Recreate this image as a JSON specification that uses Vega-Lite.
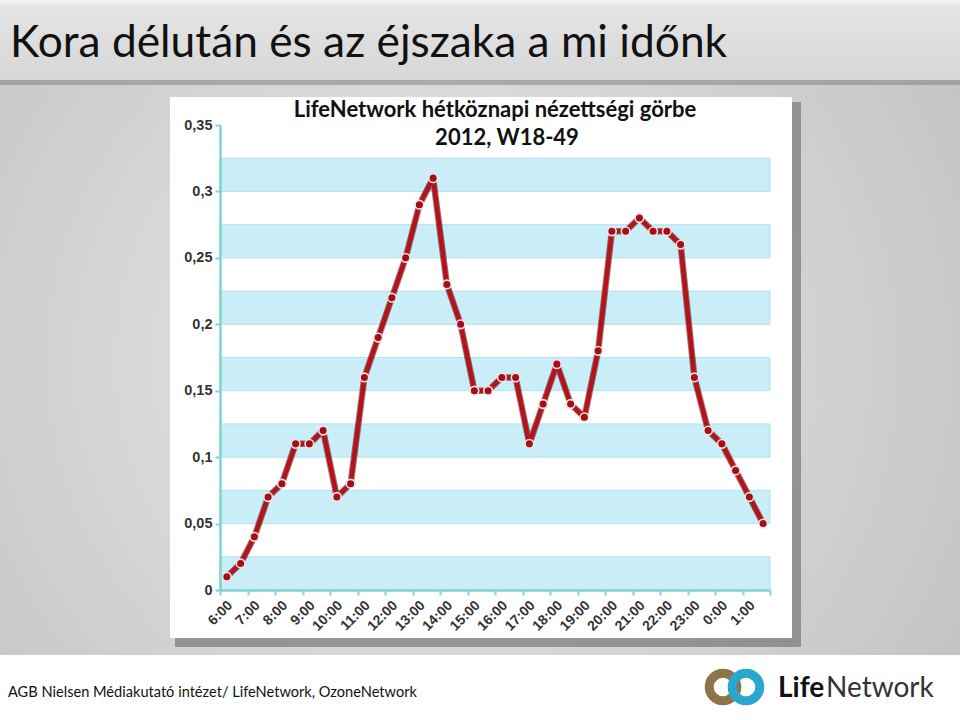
{
  "$schema": "https://vega.github.io/schema/vega-lite/v6.json",
  "width": 550,
  "height": 465,
  "autosize": {"type": "none"},
  "padding": {"left": 220, "top": 125, "right": 190, "bottom": 130},
  "background": "#d0d0d0",
  "config": {"view": {"stroke": null}, "font": "Lato"},
  "resolve": {"axis": {"x": "independent", "y": "independent"}},
  "datasets": {
    "nezettseg": [
      {"ora": 6.25, "nezettseg": 0.01}, {"ora": 6.75, "nezettseg": 0.02},
      {"ora": 7.25, "nezettseg": 0.04}, {"ora": 7.75, "nezettseg": 0.07},
      {"ora": 8.25, "nezettseg": 0.08}, {"ora": 8.75, "nezettseg": 0.11},
      {"ora": 9.25, "nezettseg": 0.11}, {"ora": 9.75, "nezettseg": 0.12},
      {"ora": 10.25, "nezettseg": 0.07}, {"ora": 10.75, "nezettseg": 0.08},
      {"ora": 11.25, "nezettseg": 0.16}, {"ora": 11.75, "nezettseg": 0.19},
      {"ora": 12.25, "nezettseg": 0.22}, {"ora": 12.75, "nezettseg": 0.25},
      {"ora": 13.25, "nezettseg": 0.29}, {"ora": 13.75, "nezettseg": 0.31},
      {"ora": 14.25, "nezettseg": 0.23}, {"ora": 14.75, "nezettseg": 0.20},
      {"ora": 15.25, "nezettseg": 0.15}, {"ora": 15.75, "nezettseg": 0.15},
      {"ora": 16.25, "nezettseg": 0.16}, {"ora": 16.75, "nezettseg": 0.16},
      {"ora": 17.25, "nezettseg": 0.11}, {"ora": 17.75, "nezettseg": 0.14},
      {"ora": 18.25, "nezettseg": 0.17}, {"ora": 18.75, "nezettseg": 0.14},
      {"ora": 19.25, "nezettseg": 0.13}, {"ora": 19.75, "nezettseg": 0.18},
      {"ora": 20.25, "nezettseg": 0.27}, {"ora": 20.75, "nezettseg": 0.27},
      {"ora": 21.25, "nezettseg": 0.28}, {"ora": 21.75, "nezettseg": 0.27},
      {"ora": 22.25, "nezettseg": 0.27}, {"ora": 22.75, "nezettseg": 0.26},
      {"ora": 23.25, "nezettseg": 0.16}, {"ora": 23.75, "nezettseg": 0.12},
      {"ora": 24.25, "nezettseg": 0.11}, {"ora": 24.75, "nezettseg": 0.09},
      {"ora": 25.25, "nezettseg": 0.07}, {"ora": 25.75, "nezettseg": 0.05}
    ],
    "savok": [
      {"also": 0, "felso": 0.025}, {"also": 0.05, "felso": 0.075},
      {"also": 0.1, "felso": 0.125}, {"also": 0.15, "felso": 0.175},
      {"also": 0.2, "felso": 0.225}, {"also": 0.25, "felso": 0.275},
      {"also": 0.3, "felso": 0.325}
    ],
    "ures": [{}]
  },
  "layer": [
    {
      "data": {"name": "ures"},
      "mark": {"type": "rect", "fill": {"gradient": "radial", "x1": 0.45, "y1": 0.5, "x2": 0.45, "y2": 0.5, "r1": 0, "r2": 0.75, "stops": [{"offset": 0, "color": "#ebebeb"}, {"offset": 1, "color": "#bcbcbc"}]}},
      "encoding": {"x": {"datum": -2, "axis": null}, "x2": {"datum": 32.9091}, "y": {"datum": 0.44409, "axis": null}, "y2": {"datum": -0.09785}}
    },
    {
      "data": {"name": "ures"},
      "mark": {"type": "rect", "fill": "#8a8a8a", "opacity": 0.6},
      "encoding": {"x": {"datum": -2, "axis": null}, "x2": {"datum": 32.9091}, "y": {"datum": 0.44409, "axis": null}, "y2": {"datum": 0.38011}}
    },
    {
      "data": {"name": "ures"},
      "mark": {"type": "rect", "fill": {"gradient": "linear", "x1": 0, "y1": 0, "x2": 0, "y2": 1, "stops": [{"offset": 0, "color": "#f6f6f6"}, {"offset": 0.08, "color": "#e4e4e4"}, {"offset": 1, "color": "#d7d7d7"}]}},
      "encoding": {"x": {"datum": -2, "axis": null}, "x2": {"datum": 32.9091}, "y": {"datum": 0.44409, "axis": null}, "y2": {"datum": 0.38387}}
    },
    {
      "data": {"name": "ures"},
      "mark": {"type": "rect", "fill": "#ffffff"},
      "encoding": {"x": {"datum": -2, "axis": null}, "x2": {"datum": 32.9091}, "y": {"datum": -0.04892, "axis": null}, "y2": {"datum": -0.09785}}
    },
    {
      "data": {"name": "ures"},
      "mark": {"type": "rect", "fill": "#5e5e5e", "opacity": 0.55},
      "encoding": {"x": {"datum": 4.36364, "axis": null}, "x2": {"datum": 27.12727}, "y": {"datum": 0.36731, "axis": null}, "y2": {"datum": -0.0429}}
    },
    {
      "data": {"name": "ures"},
      "mark": {"type": "rect", "fill": "#ffffff"},
      "encoding": {"x": {"datum": 4.18182, "axis": null}, "x2": {"datum": 26.8}, "y": {"datum": 0.37108, "axis": null}, "y2": {"datum": -0.03613}}
    },
    {
      "data": {"name": "savok"},
      "mark": {"type": "rect", "fill": "#c9eef8", "stroke": "#b2e4ee", "strokeWidth": 1},
      "encoding": {"x": {"datum": 6, "axis": null}, "x2": {"datum": 26}, "y": {"field": "also", "type": "quantitative", "axis": null}, "y2": {"field": "felso"}}
    },
    {
      "data": {"name": "nezettseg"},
      "mark": {"type": "line", "color": "#5c0000", "strokeWidth": 6.5, "opacity": 0.55, "strokeJoin": "round", "strokeCap": "round"},
      "encoding": {"x": {"field": "ora", "type": "quantitative", "axis": null}, "y": {"field": "nezettseg", "type": "quantitative", "axis": null}}
    },
    {
      "data": {"name": "nezettseg"},
      "mark": {"type": "line", "color": "#b3141b", "strokeWidth": 4.5, "strokeJoin": "round", "strokeCap": "round", "point": {"filled": true, "fill": "#a0101a", "stroke": "#fbe0e0", "strokeWidth": 1.6, "size": 75, "opacity": 1}},
      "encoding": {
        "x": {
          "field": "ora", "type": "quantitative",
          "scale": {"domain": [6, 26], "nice": false, "zero": false},
          "axis": {
            "values": [6, 7, 8, 9, 10, 11, 12, 13, 14, 15, 16, 17, 18, 19, 20, 21, 22, 23, 24, 25, 26],
            "labelExpr": "datum.value == 26 ? '' : (datum.value % 24) + ':00'",
            "labelAngle": -45, "labelFont": "Liberation Sans", "labelFontWeight": "bold", "labelFontSize": 14, "labelColor": "#333333",
            "labelPadding": 3, "labelOffset": 5, "labelOverlap": false, "labelFlush": false,
            "tickColor": "#7fd3d3", "tickWidth": 2, "tickSize": 5,
            "domainColor": "#7fd3d3", "domainWidth": 2.5,
            "grid": false, "title": null, "zindex": 1
          }
        },
        "y": {
          "field": "nezettseg", "type": "quantitative",
          "scale": {"domain": [0, 0.35], "nice": false},
          "axis": {
            "values": [0, 0.05, 0.1, 0.15, 0.2, 0.25, 0.3, 0.35],
            "labelExpr": "replace(format(datum.value, '~g'), '.', ',')",
            "labelFont": "Liberation Sans", "labelFontWeight": "bold", "labelFontSize": 14.5, "labelColor": "#333333",
            "labelPadding": 3,
            "tickColor": "#7fd3d3", "tickWidth": 2, "tickSize": 5,
            "domainColor": "#7fd3d3", "domainWidth": 2.5,
            "grid": false, "title": null, "zindex": 1
          }
        }
      }
    },
    {
      "data": {"name": "ures"},
      "mark": {"type": "text", "text": "Kora délután és az éjszaka a mi időnk", "font": "Lato", "fontSize": 44.3, "color": "#111111", "align": "left", "baseline": "alphabetic"},
      "encoding": {"x": {"datum": -1.63636, "axis": null}, "y": {"datum": 0.40118, "axis": null}}
    },
    {
      "data": {"name": "ures"},
      "mark": {"type": "text", "text": "LifeNetwork hétköznapi nézettségi görbe", "font": "Lato", "fontSize": 22, "fontWeight": "bold", "color": "#111111", "align": "center", "baseline": "alphabetic"},
      "encoding": {"x": {"datum": 16, "axis": null}, "y": {"datum": 0.35602, "axis": null}}
    },
    {
      "data": {"name": "ures"},
      "mark": {"type": "text", "text": "2012, W18-49", "font": "Lato", "fontSize": 22, "fontWeight": "bold", "color": "#111111", "align": "center", "baseline": "alphabetic"},
      "encoding": {"x": {"datum": 16.43636, "axis": null}, "y": {"datum": 0.33495, "axis": null}}
    },
    {
      "data": {"name": "ures"},
      "mark": {"type": "text", "text": "AGB Nielsen Médiakutató intézet/ LifeNetwork, OzoneNetwork", "font": "Lato", "fontSize": 14.6, "color": "#111111", "align": "left", "baseline": "alphabetic"},
      "encoding": {"x": {"datum": -1.70909, "axis": null}, "y": {"datum": -0.08054, "axis": null}}
    },
    {
      "data": {"name": "ures"},
      "mark": {"type": "point", "shape": "circle", "filled": false, "size": 760, "strokeWidth": 9, "color": "#8d7548", "opacity": 1},
      "encoding": {"x": {"datum": 24.29091, "axis": null}, "y": {"datum": -0.07301, "axis": null}}
    },
    {
      "data": {"name": "ures"},
      "mark": {"type": "point", "shape": "circle", "filled": false, "size": 760, "strokeWidth": 9, "color": "#2aa7cf", "opacity": 1},
      "encoding": {"x": {"datum": 25.12727, "axis": null}, "y": {"datum": -0.07301, "axis": null}}
    },
    {
      "data": {"name": "ures"},
      "mark": {"type": "text", "text": "Life", "font": "Lato", "fontSize": 28, "fontWeight": "bold", "color": "#111111", "align": "left", "baseline": "alphabetic"},
      "encoding": {"x": {"datum": 26.29091, "axis": null}, "y": {"datum": -0.08054, "axis": null}}
    },
    {
      "data": {"name": "ures"},
      "mark": {"type": "text", "text": "Network", "font": "Lato", "fontSize": 28, "color": "#333333", "align": "left", "baseline": "alphabetic"},
      "encoding": {"x": {"datum": 28.03636, "axis": null}, "y": {"datum": -0.08054, "axis": null}}
    }
  ]
}
